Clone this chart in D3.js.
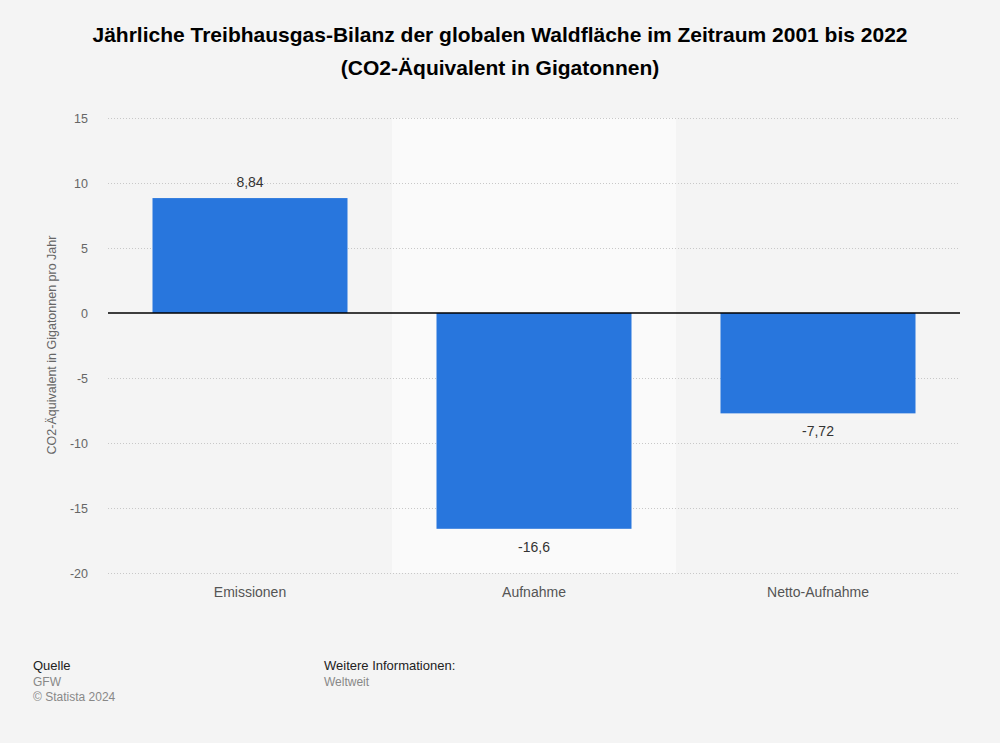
<!DOCTYPE html>
<html><head><meta charset="utf-8">
<script src="https://cdn.jsdelivr.net/npm/d3@7"></script>
<style>
body{margin:0;background:#f4f4f4;}
svg{display:block;font-family:"Liberation Sans",Arial,sans-serif;}
</style></head><body>
<svg id="c" width="1000" height="743"></svg>
<script>
const categories = ["Emissionen", "Aufnahme", "Netto-Aufnahme"];
const values = [8.84, -16.6, -7.72];
const valueLabels = ["8,84", "-16,6", "-7,72"];
const yTicks = [15, 10, 5, 0, -5, -10, -15, -20];

const svg = d3.select("#c");
svg.append("rect").attr("width",1000).attr("height",743).attr("fill","#f4f4f4");

const x = d3.scaleBand().domain(categories).range([108,960]).paddingInner(0).paddingOuter(0);
const y = d3.scaleLinear().domain([-20,15]).range([573,118]);

// highlighted band
svg.append("rect").attr("x", x("Aufnahme")).attr("y", y(15)).attr("width", x.bandwidth()).attr("height", y(-20)-y(15)).attr("fill","#fafafa");

// title
const title = svg.append("text").attr("text-anchor","middle").attr("font-weight","bold").attr("font-size",21).attr("fill","#000");
title.append("tspan").attr("x",500).attr("y",42).text("Jährliche Treibhausgas-Bilanz der globalen Waldfläche im Zeitraum 2001 bis 2022");
title.append("tspan").attr("x",500).attr("y",75).text("(CO2-Äquivalent in Gigatonnen)");

// grid
svg.append("g").selectAll("line").data(yTicks.filter(d=>d!==0)).join("line")
  .attr("x1",108).attr("x2",960).attr("y1",d=>y(d)+0.5).attr("y2",d=>y(d)+0.5)
  .attr("stroke","#c8c8c8").attr("stroke-dasharray","1,2").attr("stroke-width",1);

// y axis labels
const yAxis = d3.axisLeft(y).tickValues(yTicks).tickSize(0).tickPadding(0).tickFormat(d=>String(d));
const ya = svg.append("g").attr("transform","translate(88,0)").call(yAxis);
ya.select(".domain").remove();
ya.selectAll("text").attr("font-size",12.5).attr("fill","#666").attr("font-family","Liberation Sans, Arial, sans-serif");

// y axis title
svg.append("text").attr("transform","translate(56,345) rotate(-90)").attr("text-anchor","middle")
  .attr("font-size",12.5).attr("fill","#666").text("CO2-Äquivalent in Gigatonnen pro Jahr");

// bars
const bw = 195;
svg.append("g").selectAll("rect").data(values).join("rect")
  .attr("x",(d,i)=>x(categories[i])+x.bandwidth()/2-bw/2)
  .attr("width",bw)
  .attr("y",d=>y(Math.max(0,d)))
  .attr("height",d=>Math.abs(y(d)-y(0)))
  .attr("fill","#2876dd");

// zero line
svg.append("line").attr("x1",108).attr("x2",960).attr("y1",y(0)).attr("y2",y(0)).attr("stroke","#000").attr("stroke-width",1.3);

// value labels
svg.append("g").selectAll("text").data(values).join("text")
  .attr("x",(d,i)=>x(categories[i])+x.bandwidth()/2)
  .attr("y",d=> d>=0 ? y(d)-11 : y(d)+23)
  .attr("text-anchor","middle").attr("font-size",14).attr("fill","#333")
  .text((d,i)=>valueLabels[i]);

// category labels
const xAxis = d3.axisBottom(x).tickSize(0).tickPadding(0);
const xa = svg.append("g").attr("transform","translate(0,587)").call(xAxis);
xa.select(".domain").remove();
xa.selectAll("text").attr("font-size",14).attr("fill","#555").attr("font-family","Liberation Sans, Arial, sans-serif").attr("dy","0.71em");

// footer
svg.append("text").attr("x",33).attr("y",670).attr("font-size",13).attr("fill","#222").text("Quelle");
svg.append("text").attr("x",33).attr("y",686).attr("font-size",12).attr("fill","#888").text("GFW");
svg.append("text").attr("x",33).attr("y",701).attr("font-size",12).attr("fill","#888").text("© Statista 2024");
svg.append("text").attr("x",324).attr("y",670).attr("font-size",13).attr("fill","#222").text("Weitere Informationen:");
svg.append("text").attr("x",324).attr("y",686).attr("font-size",12).attr("fill","#888").text("Weltweit");
</script>
</body></html>
